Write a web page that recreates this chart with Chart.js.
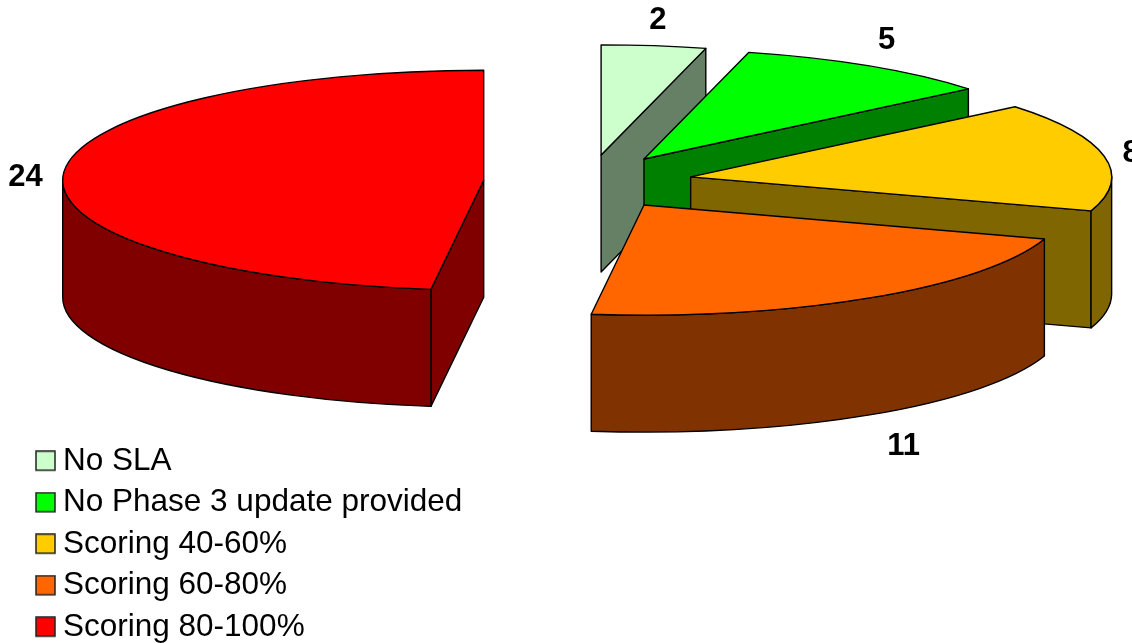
<!DOCTYPE html>
<html lang="en">
<head>
    <meta charset="UTF-8">
    <title>SLA Scoring</title>
    <script src="https://cdn.jsdelivr.net/npm/chart.js"></script>
    <style>
        html, body { margin: 0; padding: 0; background: #fff; overflow: hidden; }
        canvas { display: block; }
    </style>
</head>
<body>
    <canvas id="slaPie" width="1132" height="643"></canvas>
    <script>
        const categories = ['No SLA', 'No Phase 3 update provided', 'Scoring 40-60%', 'Scoring 60-80%', 'Scoring 80-100%'];
        const slaCounts = [2, 5, 8, 11, 24];
        const topColors = ['#CCFFCC', '#00FF00', '#FFCC00', '#FF6600', '#FF0000'];
        const sideColors = ['#668066', '#008000', '#806600', '#803300', '#800000'];

        // Pie geometry on the page
        const PIE_X = 588;
        const PIE_Y = 182;
        const PIE_RADIUS = 421;
        const SQUASH = 110 / 421;   // tilt of the pie
        const DEPTH = 117;          // height of the walls
        const EXPLODE = 104.5;      // how far each slice is pulled out

        // Value labels, relative to the middle of each slice's rim
        const labelShift = [[4, -25], [17, -26], [27, -3], [34, 149], [-38, 4]];

        // Legend swatch: the default box sits too far from its text at this font size
        function makeSwatch(color) {
            const swatch = document.createElement('canvas');
            swatch.width = 21;
            swatch.height = 22;
            const c = swatch.getContext('2d');
            c.fillStyle = color;
            c.fillRect(1, 1, 19, 19);
            c.lineWidth = 1.5;
            c.strokeStyle = '#222';
            c.strokeRect(1, 1, 19, 19);
            return swatch;
        }

        // Pie controller that paints its arcs as a tilted, exploded 3D pie
        class ExplodedPieController extends Chart.PieController {
            draw() {
                const ctx = this.chart.ctx;
                const arcs = this.getMeta().data;
                ctx.save();
                ctx.lineWidth = 1.4;
                ctx.lineJoin = 'round';
                ctx.strokeStyle = '#000';
                arcs.forEach((arc, i) => this.drawSlice(ctx, arc, i));
                ctx.fillStyle = '#000';
                ctx.font = 'bold 31px "Liberation Sans"';
                ctx.textAlign = 'center';
                ctx.textBaseline = 'middle';
                arcs.forEach((arc, i) => {
                    const { x, y, rx, ry, mid } = this.sliceFrame(arc);
                    const rimX = x + rx * Math.cos(mid);
                    const rimY = y + ry * Math.sin(mid);
                    ctx.fillText(String(slaCounts[i]), rimX + labelShift[i][0], rimY + labelShift[i][1]);
                });
                ctx.restore();
            }

            sliceFrame(arc) {
                const mid = (arc.startAngle + arc.endAngle) / 2;
                return {
                    mid,
                    rx: arc.outerRadius,
                    ry: arc.outerRadius * SQUASH,
                    x: PIE_X + EXPLODE * Math.cos(mid),
                    y: PIE_Y + EXPLODE * SQUASH * Math.sin(mid)
                };
            }

            drawSlice(ctx, arc, i) {
                const { x, y, rx, ry } = this.sliceFrame(arc);
                const a0 = arc.startAngle;
                const a1 = arc.endAngle;
                const paint = (fill) => {
                    ctx.fillStyle = fill;
                    ctx.fill();
                    ctx.stroke();
                };
                const radialWall = (a) => {
                    const px = x + rx * Math.cos(a);
                    const py = y + ry * Math.sin(a);
                    ctx.beginPath();
                    ctx.moveTo(x, y);
                    ctx.lineTo(px, py);
                    ctx.lineTo(px, py + DEPTH);
                    ctx.lineTo(x, y + DEPTH);
                    ctx.closePath();
                    paint(sideColors[i]);
                };

                // only the cut faces turned toward the viewer
                if (-Math.cos(a0) > 1e-6) radialWall(a0);
                if (Math.cos(a1) > 1e-6) radialWall(a1);

                // outer wall, front half of the rim only
                const lo = Math.max(a0, 0);
                const hi = Math.min(a1, Math.PI);
                if (lo < hi) {
                    ctx.beginPath();
                    ctx.ellipse(x, y, rx, ry, 0, lo, hi);
                    ctx.ellipse(x, y + DEPTH, rx, ry, 0, hi, lo, true);
                    ctx.closePath();
                    paint(sideColors[i]);
                }

                // top face
                ctx.beginPath();
                ctx.moveTo(x, y);
                ctx.ellipse(x, y, rx, ry, 0, a0, a1);
                ctx.closePath();
                paint(topColors[i]);
            }
        }
        ExplodedPieController.id = 'explodedPie';
        Chart.register(ExplodedPieController);

        // Legend hangs slightly below the chart area, layout padding can't go negative
        const legendDrop = {
            id: 'legendDrop',
            afterLayout(chart) {
                chart.legend.bottom = chart.height + 10;
            }
        };

        new Chart(document.getElementById('slaPie').getContext('2d'), {
            type: 'explodedPie',
            data: {
                labels: categories,
                datasets: [{
                    data: slaCounts,
                    backgroundColor: topColors,
                    borderColor: '#000',
                    borderWidth: 1
                }]
            },
            plugins: [legendDrop],
            options: {
                responsive: false,
                animation: false,
                radius: PIE_RADIUS,
                layout: { padding: { left: 33.75 } },
                plugins: {
                    tooltip: { enabled: false },
                    legend: {
                        position: 'chartArea',
                        align: 'end',
                        labels: {
                            color: '#000',
                            font: { family: '"Liberation Sans"', size: 31.5 },
                            usePointStyle: true,
                            boxWidth: 3.5,
                            boxHeight: 19,
                            padding: 10,
                            generateLabels: () => categories.map((text, i) => ({
                                text,
                                index: i,
                                fontColor: '#000',
                                hidden: false,
                                lineWidth: 0,
                                pointStyle: makeSwatch(topColors[i])
                            }))
                        }
                    }
                }
            }
        });
    </script>
</body>
</html>
